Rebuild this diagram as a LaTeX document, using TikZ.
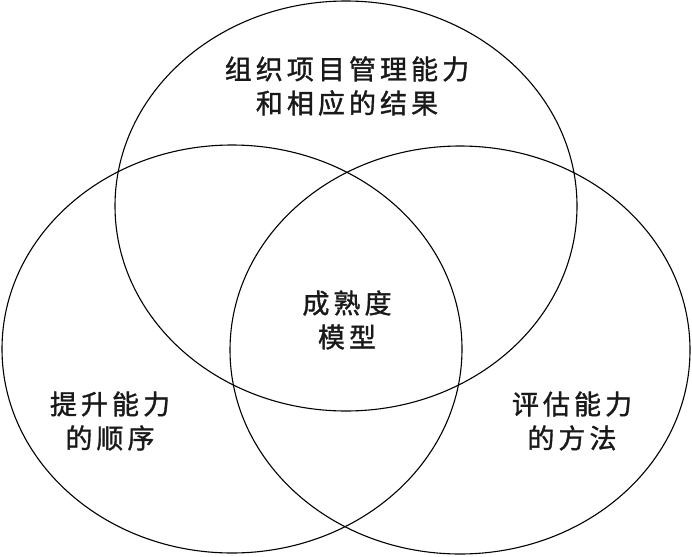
\documentclass[tikz,border=0pt]{standalone}
\usepackage{fontspec}
\newfontfamily\cjk[FakeBold=1.3,LetterSpace=15]{Noto Sans CJK SC}
\begin{document}
\begin{tikzpicture}[x=1pt,y=-1pt,
  ring/.style={draw=black, line width=1.1pt},
  lbl/.style={font=\cjk\fontsize{27}{34}\selectfont, align=center, text=black!90, inner sep=0pt}]
\useasboundingbox (0,0) rectangle (692,556);
\draw[ring] (346,206) ellipse [x radius=231, y radius=205];
\draw[ring] (232,349) ellipse [x radius=230, y radius=204];
\draw[ring] (460,350) ellipse [x radius=230, y radius=204];
\node[lbl] (top) at (347,86) {组织项目管理能力\\和相应的结果};
\node[lbl] (mid) at (347,320) {成熟度\\模型};
\node[lbl] (left) at (110,421) {提升能力\\的顺序};
\node[lbl] (right) at (572,421) {评估能力\\的方法};
\end{tikzpicture}
\end{document}
